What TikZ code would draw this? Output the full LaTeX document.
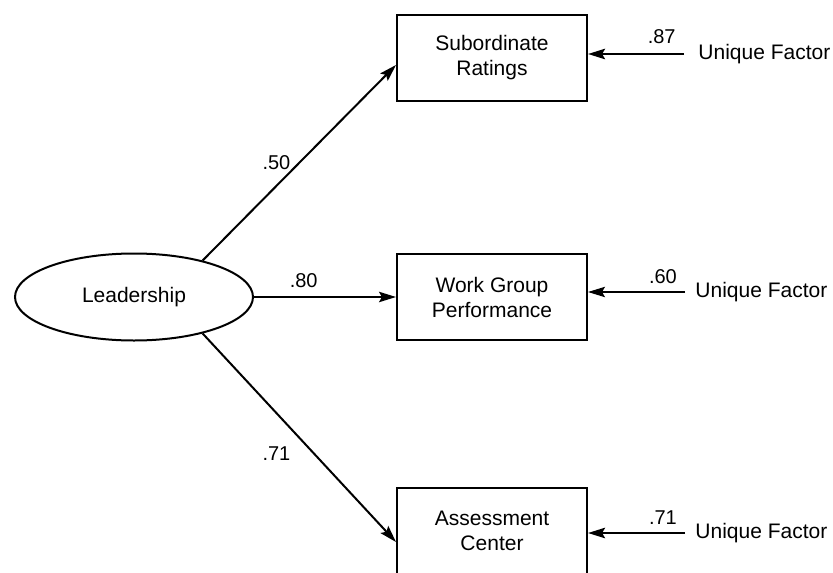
\documentclass[tikz,border=0pt]{standalone}
\usepackage{fontspec}
\setmainfont{Liberation Sans}
\usetikzlibrary{arrows.meta, shapes.geometric}
\tikzset{every node/.style={font=\fontsize{10.5}{12.5}\selectfont}}

\begin{document}
\begin{tikzpicture}[x=0.5pt, y=-0.5pt, >={Stealth[length=8.5pt, width=5.2pt, inset=1.5pt]}]
  % Fixed frame of the drawing (pixel-like units, y going down)
  \path[use as bounding box] (0,0) rectangle (833,572);

  % Styles of the path model.
  \tikzset{
    measure/.style={draw, line width=1pt, minimum width=95pt, minimum height=43pt,
      align=center, inner sep=2pt},
    latent/.style={draw, ellipse, line width=1pt, minimum width=119pt, minimum height=43.5pt},
    path/.style={->, line width=1pt},
    weight/.style={font=\fontsize{10}{12}\selectfont, inner sep=2pt},
    unique/.style={anchor=west, inner sep=0pt}
  }

  % Latent factor and its three measures.
  \node[latent] (lead) at (134,297) {Leadership};
  \node[measure] (sub) at (492,58) {Subordinate\\Ratings};
  \node[measure] (work) at (492,297) {Work Group\\Performance};
  \node[measure] (assess) at (492,531) {Assessment\\Center};

  % Unique factors on the right.
  \node[unique] (u1) at (698,54) {Unique Factor};
  \node[unique] (u2) at (695,292) {Unique Factor};
  \node[unique] (u3) at (695,533) {Unique Factor};

  % Loadings.
  \draw[path] (lead.28) -- ([yshift=-3.5pt]sub.west)
    node[weight, pos=0.5, left, inner sep=4pt] {.50};
  \draw[path] (lead.east) -- (work.west)
    node[weight, pos=0.35, above, inner sep=4pt] {.80};
  \draw[path] (lead.-28) -- ([yshift=-5.5pt]assess.west)
    node[weight, pos=0.5, below left, inner sep=4pt] {.71};

  % Unique factor paths.
  \draw[path, line width=1.3pt, shorten <=7pt] (u1.west) -- (u1.west -| sub.east)
    node[weight, pos=0.33, above, inner sep=4.5pt] {.87};
  \draw[path, line width=0.6pt, shorten <=5pt] (u2.west) -- (u2.west -| work.east)
    node[weight, pos=0.3, above, inner sep=4pt] {.60};
  \draw[path, line width=1.3pt, shorten <=5pt] (u3.west) -- (u3.west -| assess.east)
    node[weight, pos=0.3, above, inner sep=3.5pt] {.71};
\end{tikzpicture}
\end{document}
